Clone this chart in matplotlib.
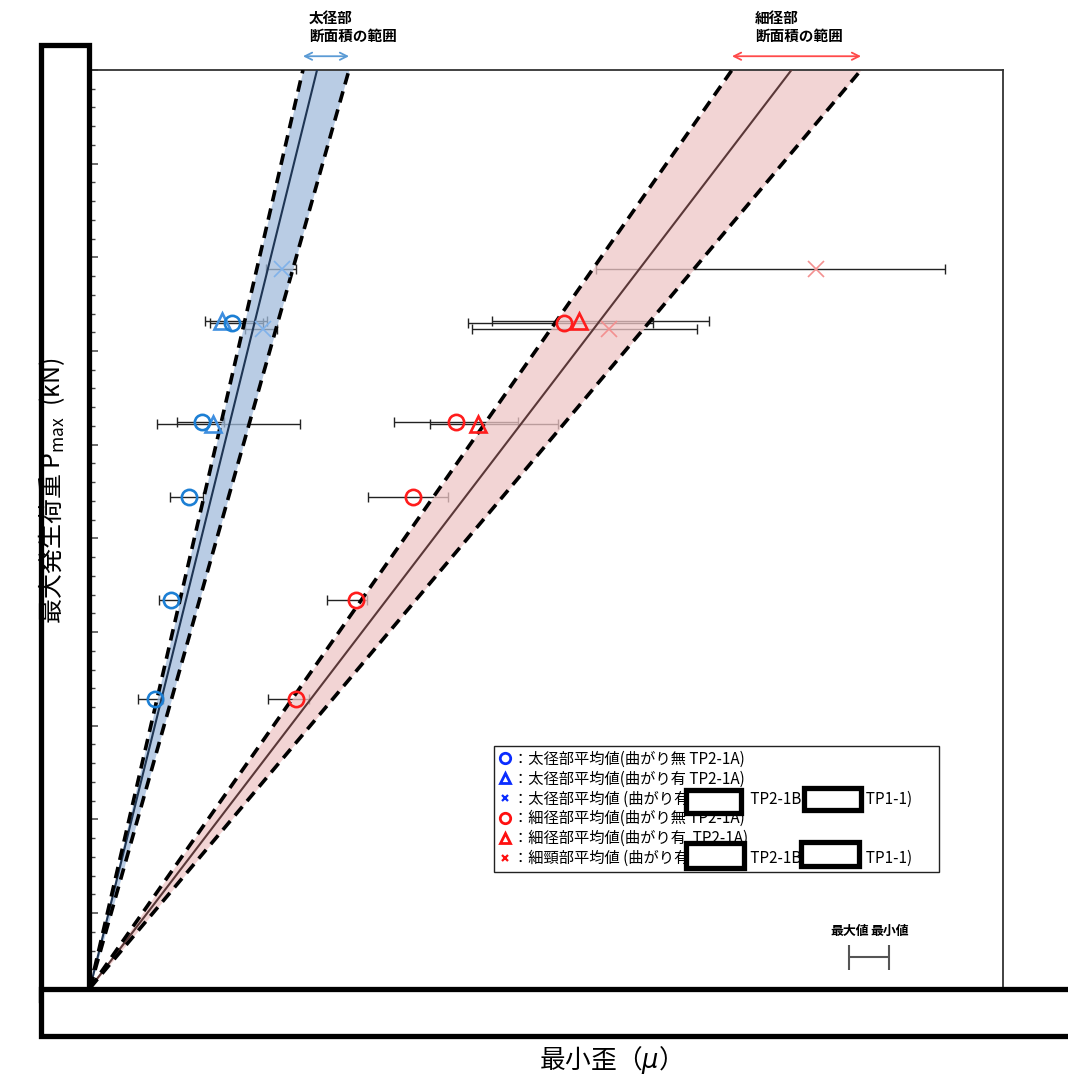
import matplotlib
matplotlib.use("Agg")
import matplotlib.pyplot as plt
from matplotlib.lines import Line2D
from matplotlib.patches import Rectangle
from matplotlib.ticker import MultipleLocator, FixedLocator
import numpy as np

plt.rcParams["font.family"] = ["Noto Sans CJK JP", "DejaVu Sans"]

# axis ranges: load (kN) and strain (μ)
Y_MAX = 490
X_MAX = 2000

# strain per unit load (μ/kN) for each cross-section range: lower edge, centre, upper edge
thick_band = [0.952, 1.015, 1.158]
thin_band = [2.870, 3.136, 3.447]

# 太径部 averages with min/max strain
thick_o_load = [154, 207, 262, 302, 355]
thick_o_strain = [142.4, 177.4, 217.5, 245.3, 311.1]
thick_o_lo = [105.1, 151.2, 175.2, 190.6, 262.9]
thick_o_hi = [159.9, 195.0, 247.5, 293.5, 379.0]

thick_t_load = [301, 356]
thick_t_strain = [269.4, 289.2]
thick_t_lo = [146.8, 251.9]
thick_t_hi = [460.0, 387.7]

thick_x_load = [352, 384]
thick_x_strain = [379.0, 420.6]
thick_x_lo = [339.5, 385.5]
thick_x_hi = [409.6, 451.3]

# 細径部 averages with min/max strain
thin_o_load = [154, 207, 262, 302, 355]
thin_o_strain = [450.6, 582.0, 707.6, 801.8, 1038.3]
thin_o_lo = [389.3, 519.2, 608.3, 665.9, 827.4]
thin_o_hi = [479.7, 606.8, 784.2, 937.6, 1233.3]

thin_t_load = [301, 356]
thin_t_strain = [850.0, 1071.2]
thin_t_lo = [744.8, 880.6]
thin_t_hi = [1025.2, 1356.0]

thin_x_load = [352, 384]
thin_x_strain = [1136.9, 1590.4]
thin_x_lo = [836.1, 1108.4]
thin_x_hi = [1329.0, 1873.0]

legend_labels = [
    "：太径部平均値(曲がり無 TP2-1A)",
    "：太径部平均値(曲がり有 TP2-1A)",
    "：太径部平均値 (曲がり有　　　　TP2-1B 　　　　TP1-1)　  ",
    "：細径部平均値(曲がり無 TP2-1A)",
    "：細径部平均値(曲がり有  TP2-1A)",
    "：細頸部平均値 (曲がり有　　　　TP2-1B 　　　　TP1-1)　  ",
]

W, H = 1068, 1079
fig = plt.figure(figsize=(W / 100, H / 100), dpi=100)
ax = fig.add_axes([90 / W, 1 - 988 / H, 913 / W, 918 / H])
ax.set_xlim(0, X_MAX)
ax.set_ylim(0, Y_MAX)

# min/max strain bars (drawn beneath the translucent bands)
ERR = dict(fmt="none", ecolor="#222222", elinewidth=1.0, capsize=3.6, capthick=1.0, zorder=1)


def bars(strain, load, lo, hi):
    s = np.asarray(strain)
    ax.errorbar(s, load, xerr=[s - np.asarray(lo), np.asarray(hi) - s], **ERR)


for grp in [
    (thick_o_strain, thick_o_load, thick_o_lo, thick_o_hi),
    (thick_t_strain, thick_t_load, thick_t_lo, thick_t_hi),
    (thick_x_strain, thick_x_load, thick_x_lo, thick_x_hi),
    (thin_o_strain, thin_o_load, thin_o_lo, thin_o_hi),
    (thin_t_strain, thin_t_load, thin_t_lo, thin_t_hi),
    (thin_x_strain, thin_x_load, thin_x_lo, thin_x_hi),
]:
    bars(*grp)

# cross-section ranges
yy = np.array([0.0, Y_MAX])
for band, fill, centre in [
    (thick_band, "#a2bcdc", "#1f3553"),
    (thin_band, "#eec6c6", "#5a3838"),
]:
    lo, mid, hi = band
    ax.fill_betweenx(yy, lo * yy, hi * yy, color=fill, alpha=0.75, lw=0, zorder=2)
    ax.plot(mid * yy, yy, color=centre, lw=1.5, zorder=3)
    for k in (lo, hi):
        ax.plot(k * yy, yy, color="black", lw=2.6, ls=(0, (3.2, 2.0)), zorder=4)

# averaged points
ax.plot(thick_x_strain, thick_x_load, ls="none", marker="x", ms=11, mew=1.2, color="#80b2ea", zorder=5)
ax.plot(thin_x_strain, thin_x_load, ls="none", marker="x", ms=11, mew=1.2, color="#f39090", zorder=5)
ax.plot(thick_t_strain, thick_t_load, ls="none", marker="^", ms=11, mew=1.9, mfc="none", mec="#3f8fe0", zorder=6)
ax.plot(thin_t_strain, thin_t_load, ls="none", marker="^", ms=11, mew=1.9, mfc="none", mec="#ff1c1c", zorder=6)
ax.plot(thick_o_strain, thick_o_load, ls="none", marker="o", ms=11, mew=1.9, mfc="none", mec="#1c7fd4", zorder=7)
ax.plot(thin_o_strain, thin_o_load, ls="none", marker="o", ms=11, mew=1.9, mfc="none", mec="#ff1c1c", zorder=7)

# min/max key
ax.errorbar([1707], [16.7], xerr=[[43.8], [43.8]], fmt="none", ecolor="#555555",
            elinewidth=1.5, capsize=9, capthick=1.5, zorder=5)
ax.text(1707 - 43.8, 30.5, "最大値", ha="center", va="center", fontsize=9.3, fontweight="bold")
ax.text(1707 + 43.8, 30.5, "最小値", ha="center", va="center", fontsize=9.3, fontweight="bold")

# range arrows and captions above the frame
for band, col in [(thick_band, "#5b9bd5"), (thin_band, "#ff4a4a")]:
    ax.annotate("", xy=(band[0] * Y_MAX, 1.015), xytext=(band[2] * Y_MAX, 1.015),
                xycoords=("data", "axes fraction"), textcoords=("data", "axes fraction"),
                annotation_clip=False,
                arrowprops=dict(arrowstyle="<->", color=col, lw=1.3, shrinkA=0, shrinkB=0,
                                mutation_scale=13))
fig.text(309 / W, 1 - 18 / H, "太径部", fontsize=10.5, fontweight="bold", va="center", ha="left")
fig.text(309 / W, 1 - 36 / H, "断面積の範囲", fontsize=10.5, fontweight="bold", va="center", ha="left")
fig.text(755 / W, 1 - 18 / H, "細径部", fontsize=10.5, fontweight="bold", va="center", ha="left")
fig.text(755 / W, 1 - 36 / H, "断面積の範囲", fontsize=10.5, fontweight="bold", va="center", ha="left")

# frame and ticks
for side in ("top", "right"):
    ax.spines[side].set_color("#333333")
    ax.spines[side].set_linewidth(1.3)
ax.spines["left"].set_visible(False)
ax.spines["bottom"].set_visible(False)
ax.set_xticks([])
ax.yaxis.set_major_locator(FixedLocator(np.arange(40, Y_MAX + 1, 50)))
ax.yaxis.set_minor_locator(MultipleLocator(10))
ax.tick_params(axis="y", which="major", direction="in", length=5.5, width=1.1, color="#444444",
               labelleft=False)
ax.tick_params(axis="y", which="minor", direction="in", length=3.6, width=1.0, color="#444444")

# legend
handles = [
    Line2D([], [], ls="none", marker="o", ms=7.5, mew=2.0, mfc="none", mec="#0a2cff"),
    Line2D([], [], ls="none", marker="^", ms=7.5, mew=2.0, mfc="none", mec="#0a2cff"),
    Line2D([], [], ls="none", marker="x", ms=5, mew=1.6, color="#0a2cff"),
    Line2D([], [], ls="none", marker="o", ms=7.5, mew=2.0, mfc="none", mec="#ff1010"),
    Line2D([], [], ls="none", marker="^", ms=7.5, mew=2.0, mfc="none", mec="#ff1010"),
    Line2D([], [], ls="none", marker="x", ms=5, mew=1.6, color="#ff1010"),
]
leg = ax.legend(handles, legend_labels, loc="upper left",
                bbox_to_anchor=((494 - 90) / 913, (988 - 746) / 918),
                borderaxespad=0, fancybox=False, framealpha=1, edgecolor="#222222",
                fontsize=11, handlelength=0.9, handletextpad=0.05, labelspacing=0.19,
                borderpad=0.3)
leg.get_frame().set_linewidth(1.0)
leg.set_zorder(8)


def cover(x0, y0, x1, y1, lw=3.8):
    fig.add_artist(Rectangle((x0 / W, 1 - y1 / H), (x1 - x0) / W, (y1 - y0) / H,
                             transform=fig.transFigure, fc="white", ec="black", lw=lw, zorder=15))


# blank panels over the legend entries
cover(686, 789.5, 740.5, 813)
cover(803.5, 787.5, 860.5, 810)
cover(685.5, 842.5, 744, 867.5)
cover(800.5, 841.5, 859, 865.5)

# blank panels over the axis scales
cover(40.5, 45, 88.5, 1000)
cover(40.8, 989, 1090, 1036)

fig.text(52 / W, 1 - 491 / H, "最大発生荷重 $\\mathregular{P_{max}}$  (kN)", rotation=90,
         ha="center", va="center", fontsize=18, zorder=20)
fig.text(604 / W, 1 - 1060 / H, "最小歪（$\\mu$）", ha="center", va="center", fontsize=18.5, zorder=20)

fig.savefig("out.png", dpi=100)
